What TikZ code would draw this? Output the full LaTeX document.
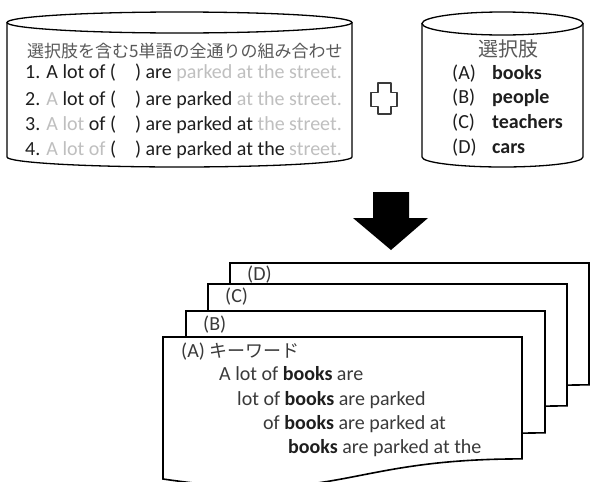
\documentclass[tikz,border=0pt]{standalone}
\usepackage{fontspec}
\setmainfont{Carlito}
\newfontfamily\jp{Noto Sans CJK JP}
\definecolor{lg}{HTML}{BFBFBF}
\definecolor{dg}{HTML}{3A3A3A}
\definecolor{jg}{HTML}{595959}
\definecolor{bk}{HTML}{1E1E1E}
\newcommand\gapp{\hspace{19pt}}
\begin{document}
\begin{tikzpicture}[x=1pt,y=1pt,
  txt/.style={anchor=base west, inner sep=0pt, text=bk, font=\fontsize{20}{22}\selectfont},
  jtxt/.style={anchor=base west, inner sep=0pt, text=jg},
  solid shape/.style={draw=black, line width=1.3pt, fill=white},
  pg/.style={draw=black, line width=1.6pt, fill=white}]
\useasboundingbox (0,0) rectangle (592,-482);

% left cylinder
\draw[solid shape] (7,-22.5) -- (7,-157) arc[start angle=180,end angle=360,x radius=172.5pt,y radius=10pt] -- (352,-22.5);
\draw[solid shape] (179.5,-22.5) ellipse[x radius=172.5pt, y radius=10.5pt];

% right cylinder
\draw[solid shape] (422,-23.5) -- (422,-157) arc[start angle=180,end angle=360,x radius=80.5pt,y radius=10pt] -- (583,-23.5);
\draw[solid shape] (502.5,-23.5) ellipse[x radius=80.5pt, y radius=11.5pt];

% left texts
\node[jtxt, font=\jp\fontsize{17}{20}\selectfont] (t0) at (27,-57) {選択肢を含む5単語の全通りの組み合わせ};
\node[txt] (l1) at (25,-78) {1. A lot of (\gapp) are \textcolor{lg}{parked at the street.}};
\node[txt] (l2) at (25,-105) {2. \textcolor{lg}{A} lot of (\gapp) are parked \textcolor{lg}{at the street.}};
\node[txt] (l3) at (25,-130) {3. \textcolor{lg}{A lot} of (\gapp) are parked at \textcolor{lg}{the street.}};
\node[txt] (l4) at (25,-155) {4. \textcolor{lg}{A lot of} (\gapp) are parked at the \textcolor{lg}{street.}};

% right texts
\node[jtxt, anchor=base, font=\jp\fontsize{20}{22}\selectfont] (c0) at (508,-56) {選択肢};
\node[txt] (ca) at (452,-79) {(A)};
\node[txt] (cb) at (452,-103) {(B)};
\node[txt] (cc) at (452,-128) {(C)};
\node[txt] (cd) at (452,-153) {(D)};
\node[txt] (wa) at (492,-79) {\textbf{books}};
\node[txt] (wb) at (492,-103) {\textbf{people}};
\node[txt] (wc) at (492,-128) {\textbf{teachers}};
\node[txt] (wd) at (492,-153) {\textbf{cars}};

% plus sign
\draw[line width=1.8pt, draw=dg, fill=white, line join=round]
  (378,-83) -- (391,-83) -- (391,-92.5) -- (397,-92.5) -- (397,-106.5) -- (391,-106.5) -- (391,-114) -- (378,-114) -- (378,-106.5) -- (371,-106.5) -- (371,-92.5) -- (378,-92.5) -- cycle;

% down arrow
\fill[black] (373,-192) -- (409,-192) -- (409,-218) -- (428,-218) -- (391,-250) -- (353,-218) -- (373,-218) -- cycle;

% pages
\foreach \px/\py in {230/263, 208/284, 186/311, 163/337}{
  \begin{scope}[shift={(\px,-\py)}]
    \draw[pg] (0,0) -- (359,0) -- (359,-121.9) .. controls (179.5,-121.9) and (179.5,-168.3) .. (0,-142) -- cycle;
  \end{scope}
}

% page texts
\node[txt, text=dg] (pd) at (247,-280) {(D)};
\node[txt, text=dg] (pc) at (225,-302) {(C)};
\node[txt, text=dg] (pb) at (203,-330) {(B)};
\node[txt, text=dg] (pa) at (181,-357) {(A) {\jp\fontsize{18}{20}\selectfont キーワード}};
\node[txt, text=dg] (k1) at (219,-380) {A lot of \textcolor{bk}{\textbf{books}} are};
\node[txt, text=dg] (k2) at (237,-405) {lot of \textcolor{bk}{\textbf{books}} are parked};
\node[txt, text=dg] (k3) at (263,-429) {of \textcolor{bk}{\textbf{books}} are parked at};
\node[txt, text=dg] (k4) at (288,-453) {\textcolor{bk}{\textbf{books}} are parked at the};
\end{tikzpicture}
\end{document}
